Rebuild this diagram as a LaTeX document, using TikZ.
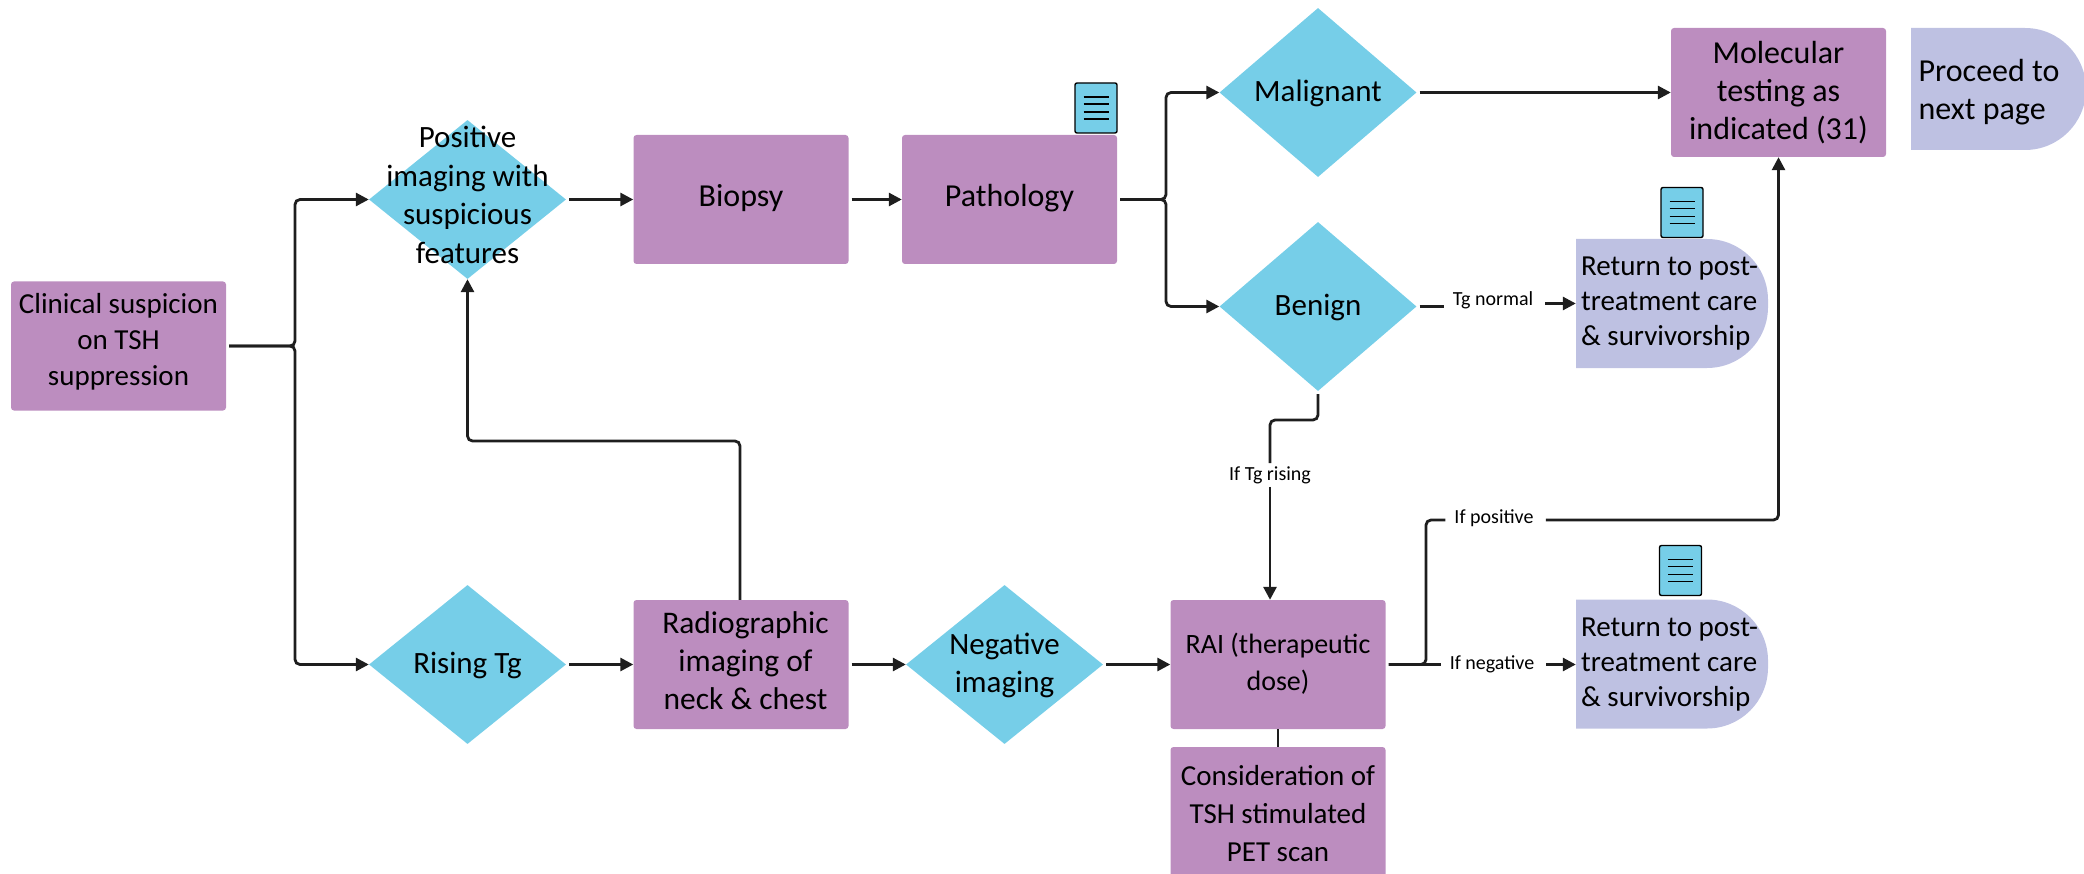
\documentclass[tikz,border=0pt]{standalone}
\usepackage{fontspec}
\setmainfont{Carlito}
\usetikzlibrary{arrows.meta,shapes.geometric}
\definecolor{pbox}{HTML}{BC8DBF}
\definecolor{cdia}{HTML}{76CEE8}
\definecolor{lav}{HTML}{BEC1E2}
\definecolor{ink}{HTML}{1E1E1E}
\newcommand{\dtext}[2][-0.25em]{\makebox[0pt]{\raisebox{#1}[0pt][0pt]{\begin{tabular}[c]{@{}c@{}}#2\end{tabular}}}}
\newcommand{\ltab}[1]{\begin{tabular}{@{}l@{}}#1\end{tabular}}
\newcommand{\ctab}[1]{\begin{tabular}{@{}c@{}}#1\end{tabular}}
\newcommand{\lift}[1]{\rule[-#1]{0pt}{0pt}}
\newcommand{\fs}[2]{\fontsize{#1}{#2}\selectfont}
\tikzset{
  pbox/.style={rectangle,rounded corners=3pt,fill=pbox,minimum width=215pt,minimum height=129pt,inner sep=0pt,align=center,text=black,font=\fs{29}{36}},
  dia/.style={diamond,fill=cdia,minimum width=197pt,minimum height=159pt,inner sep=0pt,aspect=1,font=\fs{31}{38.5}},
  bigdia/.style={dia,minimum height=169pt},
  term/.style={rectangle,minimum width=192pt,minimum height=129pt,inner sep=0pt,font=\fs{29}{35},
    path picture={\fill[lav] (path picture bounding box.north west) [rounded corners=61pt] -- (path picture bounding box.north east) -- (path picture bounding box.south east) [sharp corners] -- (path picture bounding box.south west) -- cycle;}},
  doc/.style={rectangle,rounded corners=2pt,fill=cdia,draw=black,line width=1.4pt,minimum width=42pt,minimum height=50pt,inner sep=0pt,
    path picture={\foreach \d in {-11,-4,4,11}{\draw[line width=1.3pt,black] ([xshift=-12.5pt,yshift=\d pt]path picture bounding box.center) -- ++(25pt,0);}}},
  lab/.style={font=\fs{20}{22},inner xsep=9pt,inner ysep=3pt},
  conn/.style={draw=ink,line width=2.8pt,rounded corners=5pt,shorten <=3pt},
  arr/.style={conn,-{Triangle[length=13pt,width=13pt]}},
}
\begin{document}
\begin{tikzpicture}[x=1pt,y=-1pt]
\useasboundingbox (0,0) rectangle (2084,874);
\clip (0,0) rectangle (2084,874);
% boxes
\node[pbox] (clin) at (118.5,346) {Clinical suspicion\\on TSH\\suppression\lift{14pt}};
\node[pbox,font=\fs{32}{38}] (biopsy) at (741,199.5) {Biopsy\lift{8pt}};
\node[pbox,font=\fs{32}{38}] (path) at (1009.5,199.5) {Pathology\lift{8pt}};
\node[pbox,font=\fs{32}{38}] (mol) at (1778.5,92.5) {Molecular\\testing as\\indicated (31)};
\node[pbox,font=\fs{31.5}{38}] (radio) at (741,664.5) {\hspace{9pt}\ctab{Radiographic\\imaging of\\neck \& chest\lift{12pt}}};
\node[pbox,font=\fs{28}{37}] (rai) at (1278,664.5) {\ctab{RAI (therapeutic\\dose)}};
\node[pbox,minimum height=140pt,font=\fs{29}{38}] (pet) at (1278,817) {Consideration of\\TSH stimulated\\PET scan\lift{8pt}};
% diamonds
\node[dia] (pos) at (467.5,199.5) {\dtext[-4.5pt]{Positive\\imaging with\\suspicious\\features}};
\node[dia] (rise) at (467.5,664.5) {\dtext{Rising Tg}};
\node[dia] (neg) at (1004.5,664.5) {\dtext{Negative\\imaging}};
\node[bigdia] (mal) at (1318,92.5) {\dtext{Malignant}};
\node[bigdia] (ben) at (1318,306.5) {\dtext{Benign}};
% terminals
\node[term] (ret1) at (1672,303.5) {\ltab{Return to post-\\treatment care\\\& survivorship}\kern5pt};
\node[term] (ret2) at (1672,664) {\ltab{Return to post-\\treatment care\\\& survivorship}\kern5pt};
\node[term,minimum width=175pt,minimum height=122pt,font=\fs{32}{38}] (next) at (1998.5,89) {\ltab{\rule{0pt}{34pt}Proceed to\\next page}\kern19pt};
% document icons
\node[doc] (doca) at (1096,108) {};
\node[doc] (docb) at (1682,212.5) {};
\node[doc] (docc) at (1680.5,570.5) {};
% connector labels
\node[lab] (ltg) at (1493,300) {Tg normal};
\node[lab] (lrise) at (1270,475) {If Tg rising};
\node[lab] (lpos) at (1494,518) {If positive};
\node[lab] (lneg) at (1492,664) {If negative};
% way points
\coordinate (t1) at (295,346);
\coordinate (t2) at (1166,199.5);
\coordinate (b1) at (1318,420);
\coordinate (b2) at (1270,420);
\coordinate (r1) at (1426,664.5);
\coordinate (r2) at (1426,520);
\coordinate (u1) at (740,441);
% connectors
\draw[arr] (clin.east) -- (t1) |- (pos.west);
\draw[arr] (clin.east) -- (t1) |- (rise.west);
\draw[arr] (pos.east) -- (biopsy.west);
\draw[arr] (biopsy.east) -- (path.west);
\draw[arr] (path.east) -- (t2) |- (mal.west);
\draw[arr] (path.east) -- (t2) |- (ben.west);
\draw[arr] (mal.east) -- (mol.west |- mal.east);
\draw[conn] (ben.east) -- (ltg.west |- ben.east);
\draw[arr] (ltg.east |- ret1.west) -- (ret1.west);
\draw[conn] (ben.south) -- (b1) -- (b2) -- (lrise.north);
\draw[arr,shorten <=0pt] (lrise.south) -- (lrise.south |- rai.north);
\draw[arr] (rise.east) -- (radio.west);
\draw[arr] (radio.east) -- (neg.west);
\draw[arr] (neg.east) -- (rai.west);
\draw[arr,shorten <=0pt] (u1 |- radio.north) -- (u1) -| (pos.south);
\draw[conn] (rai.east) -- (r1) -- (r2) -- (lpos.west |- r2);
\draw[arr] (lpos.east |- r2) -| (mol.south);
\draw[conn] (rai.east) -- (lneg.west |- rai.east);
\draw[arr] (lneg.east |- rai.east) -- (ret2.west |- rai.east);
\draw[conn,shorten <=0pt] (rai.south) -- (pet.north);
\end{tikzpicture}
\end{document}
